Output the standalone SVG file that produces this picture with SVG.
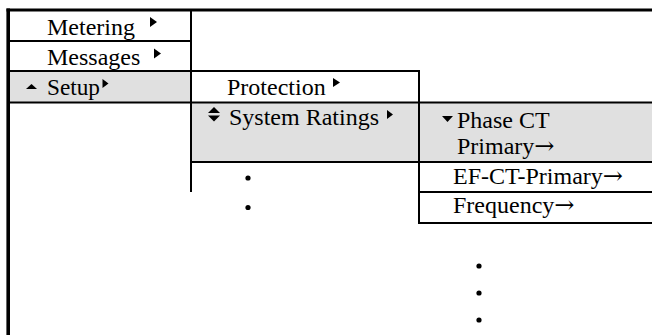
<svg xmlns="http://www.w3.org/2000/svg" width="652" height="335" viewBox="0 0 652 335">
<style>
.t{font-family:"Liberation Serif","Times New Roman",serif;font-size:24px;fill:#000}
.ar{font-family:"DejaVu Serif",serif;font-size:24px}
.ln{stroke:#000;stroke-width:2;fill:none}
.bd{stroke:#000;fill:none}
.g{fill:#e0e0e0}
.ic{fill:#000}
</style>
<rect width="652" height="335" fill="#fff"/>
<g id="fills">
<rect class="g" x="8" y="71" width="183" height="31.5"/>
<rect class="g" x="191" y="102.5" width="228" height="59.5"/>
<rect class="g" x="419" y="102.5" width="233" height="59.5"/>
</g>
<g id="connectors">
<line class="bd" x1="6.5" y1="10" x2="652" y2="10" stroke-width="3.2"/>
<line class="bd" x1="8.2" y1="8.5" x2="8.2" y2="335" stroke-width="3.6"/>
<line class="ln" x1="8" y1="41" x2="191" y2="41"/>
<line class="ln" x1="8" y1="71" x2="419" y2="71"/>
<line class="ln" x1="8" y1="102.5" x2="652" y2="102.5"/>
<line class="ln" x1="191" y1="162" x2="652" y2="162"/>
<line class="ln" x1="419" y1="192" x2="652" y2="192"/>
<line class="ln" x1="419" y1="223" x2="652" y2="223"/>
<line class="ln" x1="191" y1="10" x2="191" y2="192"/>
<line class="ln" x1="419" y1="70" x2="419" y2="224"/>
</g>
<g id="metering">
<text class="t" x="47" y="34.5">Metering</text>
<polygon class="ic" points="150,17 157,22 150,27"/>
</g>
<g id="messages">
<text class="t" x="47" y="64.5">Messages</text>
<polygon class="ic" points="154,48.5 161,53.5 154,58.5"/>
</g>
<g id="setup">
<polygon class="ic" points="26,89 31.5,84 37,89"/>
<text class="t" x="47" y="95" textLength="53" lengthAdjust="spacingAndGlyphs">Setup</text>
<polygon class="ic" points="102.5,79 108.5,83.5 102.5,88"/>
</g>
<g id="protection">
<text class="t" x="227" y="95">Protection</text>
<polygon class="ic" points="333,78 340,82.5 333,87"/>
</g>
<g id="system-ratings">
<polygon class="ic" points="208,113 214,107 220,113"/>
<polygon class="ic" points="208,115.5 214,121.5 220,115.5"/>
<text class="t" x="229" y="125">System Ratings</text>
<polygon class="ic" points="387,110 393,114.5 387,119"/>
</g>
<g id="col2-more">
<circle cx="248" cy="178" r="2.6"/>
<circle cx="248" cy="207.5" r="2.6"/>
</g>
<g id="phase-ct">
<polygon class="ic" points="442,116 453,116 447.5,122"/>
<text class="t" x="457" y="128">Phase CT</text>
<text class="t" x="457" y="154">Primary<tspan class="ar">→</tspan></text>
</g>
<g id="ef-ct">
<text class="t" x="453" y="184">EF-CT-Primary<tspan class="ar">→</tspan></text>
</g>
<g id="frequency">
<text class="t" x="453" y="213">Frequency<tspan class="ar">→</tspan></text>
</g>
<g id="col3-more">
<circle cx="479" cy="266" r="2.6"/>
<circle cx="479" cy="293" r="2.6"/>
<circle cx="479" cy="320" r="2.6"/>
</g>
</svg>
